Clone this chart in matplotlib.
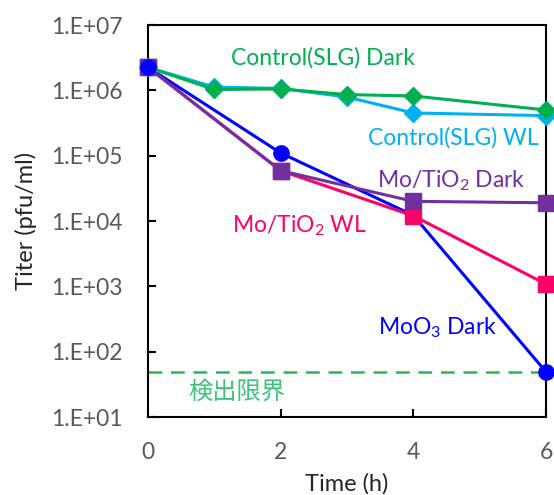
import matplotlib
matplotlib.use("Agg")
import matplotlib.pyplot as plt
from matplotlib.ticker import FixedLocator, FixedFormatter

plt.rcParams['font.family'] = ['Lato', 'Noto Sans CJK JP', 'DejaVu Sans']
plt.rcParams['mathtext.fontset'] = 'custom'
plt.rcParams['mathtext.rm'] = 'Lato'

# data
ctrl_dark_x = [0, 1, 2, 3, 4, 6]
ctrl_dark_y = [2.25e6, 1.03e6, 1.05e6, 8.6e5, 8.2e5, 5.0e5]
ctrl_wl_x = [0, 1, 2, 3, 4, 6]
ctrl_wl_y = [2.25e6, 1.12e6, 1.07e6, 7.9e5, 4.5e5, 4.1e5]
mo_dark_x = [0, 2, 4, 6]
mo_dark_y = [2.25e6, 5.9e4, 2.0e4, 1.9e4]
mo_wl_x = [0, 2, 4, 6]
mo_wl_y = [2.25e6, 5.9e4, 1.2e4, 1.08e3]
moo3_x = [0, 2, 4, 6]
moo3_y = [2.25e6, 1.1e5, 1.22e4, 49]
limit = 48

yticks = [1e1, 1e2, 1e3, 1e4, 1e5, 1e6, 1e7]
ytick_labels = ["1.E+01", "1.E+02", "1.E+03", "1.E+04", "1.E+05", "1.E+06", "1.E+07"]
xticks = [0, 2, 4, 6]

fig = plt.figure(figsize=(5.54, 4.95), dpi=100)
ax = fig.add_axes([148 / 554, 1 - 417 / 495, 398 / 554, 392 / 495])

ax.axhline(limit, color="#2DB35A", lw=1.8, dashes=(5.5, 3.5))

series = [
    (moo3_x, moo3_y, "#0000FF", "o", 11),
    (mo_wl_x, mo_wl_y, "#FF0066", "s", 11),
    (mo_dark_x, mo_dark_y, "#7030A0", "s", 11),
    (ctrl_wl_x, ctrl_wl_y, "#00B0F0", "D", 9),
    (ctrl_dark_x, ctrl_dark_y, "#00B050", "D", 9),
]
for xs, ys, c, m, ms in series:
    ax.plot(xs, ys, color=c, marker=m, ms=ms, lw=2.2, clip_on=False, zorder=3)

# redraw the first points so that the blue circle is on top
ax.plot([0], [moo3_y[0]], color="#0000FF", marker="o", ms=11, ls="none",
        clip_on=False, zorder=4)

ax.set_yscale("log")
ax.set_ylim(1e1, 1e7)
ax.set_xlim(0, 6)
ax.yaxis.set_major_locator(FixedLocator(yticks))
ax.yaxis.set_major_formatter(FixedFormatter(ytick_labels))
ax.yaxis.set_minor_locator(FixedLocator([]))
ax.set_xticks(xticks)

ax.tick_params(direction="in", length=6, width=1.5, colors="black",
               labelcolor="#595959", labelsize=16.5)
ax.tick_params(axis="x", pad=18)
ax.tick_params(axis="y", pad=18)
for s in ax.spines.values():
    s.set_linewidth(1.5)

ax.set_xlabel("Time (h)", fontsize=17, color="#262626", labelpad=7)
ax.set_ylabel("Titer (pfu/ml)", fontsize=17, color="#262626", labelpad=10)

fs = 16.5
ax.text(2.64, 3.2e6, "Control(SLG) Dark", color="#00B050", fontsize=fs,
        ha="center", va="center")
ax.text(4.6, 1.9e5, "Control(SLG) WL", color="#00B0F0", fontsize=fs,
        ha="center", va="center")
ax.text(4.57, 4.1e4, r"Mo/TiO$_2$ Dark", color="#7030A0", fontsize=fs,
        ha="center", va="center")
ax.text(2.29, 8.5e3, r"Mo/TiO$_2$ WL", color="#FF0066", fontsize=fs,
        ha="center", va="center")
ax.text(4.36, 2.3e2, r"MoO$_3$ Dark", color="#0000FF", fontsize=fs,
        ha="center", va="center")
ax.text(1.34, 24, "検出限界", color="#3CC27A", fontsize=17.5,
        ha="center", va="center", family=["Noto Sans CJK JP", "DejaVu Sans"])

fig.savefig("out.png", dpi=100)
